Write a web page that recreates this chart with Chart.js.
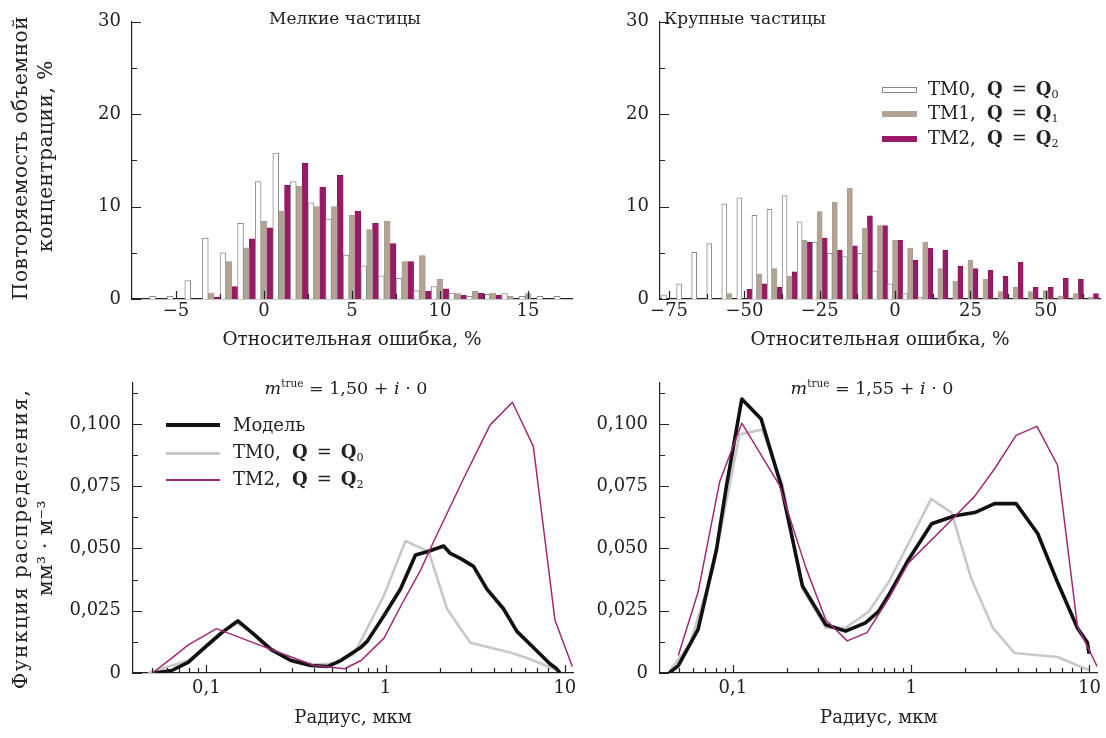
<!DOCTYPE html>
<html lang="ru">
<head>
  <meta charset="UTF-8" />
  <title>Повторяемость и функция распределения</title>
  <script src="https://cdn.jsdelivr.net/npm/chart.js"></script>
  <style>
    body {
      margin: 0;
      background: #fff;
      font-family: 'DejaVu Serif', serif;
      color: #222;
    }
    #wrap { position: relative; width: 1106px; height: 738px; overflow: hidden; }
    canvas { position: absolute; }
    .txt {
      position: absolute;
      white-space: nowrap;
      font-size: 18px;
      line-height: 1;
      transform: translateY(-50%);
    }
    .mid { transform: translate(-50%, -50%); }
    .cap { font-size: 17px; }
    .eq { font-size: 17.5px; }
    .txt sub { font-size: 0.62em; vertical-align: -0.2em; }
    .txt sup { font-size: 0.6em; vertical-align: 0.7em; }
    .sw { position: absolute; width: 35px; height: 6px; box-sizing: border-box; }
    .ln { position: absolute; width: 54px; }
  </style>
</head>
<body>
<div id="wrap">
  <canvas id="fineHist" width="590" height="360" style="left:0;top:0"></canvas>
  <canvas id="coarseHist" width="516" height="360" style="left:590px;top:0"></canvas>
  <canvas id="fineDist" width="590" height="378" style="left:0;top:360px"></canvas>
  <canvas id="coarseDist" width="516" height="378" style="left:590px;top:360px"></canvas>

  <!-- panel captions -->
  <div class="txt mid cap" style="left:345px;top:18px">Мелкие частицы</div>
  <div class="txt mid cap" style="left:745px;top:18px">Крупные частицы</div>
  <div class="txt mid eq" style="left:346px;top:388px"><i>m</i><sup>true</sup> = 1,50 + <i>i</i> · 0</div>
  <div class="txt mid eq" style="left:872px;top:388px"><i>m</i><sup>true</sup> = 1,55 + <i>i</i> · 0</div>

  <!-- histogram legend -->
  <div class="sw" style="left:882px;top:87px;background:#fff;border:1px solid #888"></div>
  <div class="txt" style="left:928px;top:90px">TM0,&nbsp; <b>Q</b>&ensp;=&ensp;<b>Q</b><sub>0</sub></div>
  <div class="sw" style="left:882px;top:111px;background:#b2a394"></div>
  <div class="txt" style="left:928px;top:114px">TM1,&nbsp; <b>Q</b>&ensp;=&ensp;<b>Q</b><sub>1</sub></div>
  <div class="sw" style="left:882px;top:136px;background:#9b1a68"></div>
  <div class="txt" style="left:928px;top:139px">TM2,&nbsp; <b>Q</b>&ensp;=&ensp;<b>Q</b><sub>2</sub></div>

  <!-- distribution legend -->
  <div class="ln" style="left:166px;top:423px;height:4px;background:#111"></div>
  <div class="txt" style="left:233px;top:425px">Модель</div>
  <div class="ln" style="left:166px;top:452px;height:3px;background:#c8c8c8"></div>
  <div class="txt" style="left:233px;top:453px">TM0,&nbsp; <b>Q</b>&ensp;=&ensp;<b>Q</b><sub>0</sub></div>
  <div class="ln" style="left:166px;top:479px;height:1.5px;background:#a0287a"></div>
  <div class="txt" style="left:233px;top:480px">TM2,&nbsp; <b>Q</b>&ensp;=&ensp;<b>Q</b><sub>2</sub></div>
</div>

<script>
  // --- histograms: relative error bins (%), repeatability (%) ---
  const fineBins = [-7, -6, -5, -4, -3, -2, -1, 0, 1, 2, 3, 4, 5, 6, 7, 8, 9, 10, 11, 12, 13, 14, 15, 16, 17];
  const fineTM0 = [0, 0.3, 0.3, 2.0, 6.6, 5.0, 8.2, 12.7, 15.8, 12.7, 10.4, 8.65, 4.75, 3.6, 2.5, 2.25, 0.9, 1.35, 0.65, 0.3, 0.5, 0.6, 0.3, 0.3, 0.3];
  const fineTM1 = [0, 0, 0, 0, 0.65, 4.05, 5.55, 8.4, 9.5, 12.2, 10.0, 10.0, 9.05, 7.5, 8.4, 4.05, 4.7, 2.15, 0.6, 0.85, 0.65, 0.3, 0.6, 0, 0];
  const fineTM2 = [0, 0, 0, 0, 0.2, 1.35, 6.5, 7.7, 12.3, 14.7, 12.1, 13.4, 9.5, 8.2, 6.0, 4.05, 0.85, 1.1, 0.4, 0.65, 0.4, 0, 0, 0, 0];

  const coarseBins = [-75, -70, -65, -60, -55, -50, -45, -40, -35, -30, -25, -20, -15, -10, -5, 0, 5, 10, 15, 20, 25, 30, 35, 40, 45, 50, 55, 60, 65];
  const coarseTM0 = [0.45, 1.65, 5.05, 6.0, 10.3, 10.95, 9.05, 9.7, 11.2, 8.35, 6.15, 4.95, 4.6, 4.95, 3.05, 1.65, 0.6, 0.2, 0, 0, 0, 0, 0, 0, 0, 0, 0, 0, 0];
  const coarseTM1 = [0, 0, 0, 0, 0.6, 0, 2.7, 3.3, 2.45, 6.35, 9.45, 10.5, 12.0, 7.65, 7.95, 6.35, 5.5, 6.15, 3.3, 1.95, 4.2, 2.15, 0.8, 1.25, 0.8, 0.9, 0.35, 0.6, 0.2];
  const coarseTM2 = [0, 0, 0, 0, 0, 1.05, 1.65, 1.25, 2.95, 6.15, 6.6, 5.3, 5.75, 9.0, 7.95, 6.35, 4.2, 5.5, 5.3, 3.55, 3.3, 3.1, 2.45, 4.0, 1.25, 1.25, 2.25, 2.15, 0.6];

  const histYTicks = [0, 5, 10, 15, 20, 25, 30];
  const histYLabels = ['0', '', '10', '', '20', '', '30'];
  const fineXTicks = [-5, -2.5, 0, 2.5, 5, 7.5, 10, 12.5, 15];
  const fineXLabels = ['−5', '', '0', '', '5', '', '10', '', '15'];
  const coarseXTicks = [-75, -62.5, -50, -37.5, -25, -12.5, 0, 12.5, 25, 37.5, 50, 62.5];
  const coarseXLabels = ['−75', '', '−50', '', '−25', '', '0', '', '25', '', '50', ''];

  // --- size distributions: radius (um), density (um^3/m^3) ---
  const fineModelR = [0.0516, 0.0641, 0.0792, 0.0977, 0.121, 0.150, 0.185, 0.229, 0.296, 0.383, 0.474, 0.562, 0.726, 0.791, 0.978, 1.211, 1.468, 1.705, 2.107, 2.297, 2.61, 3.095, 3.674, 4.543, 5.40, 6.67, 8.25, 9.0, 9.4];
  const fineModelV = [0, 0.001, 0.0043, 0.0102, 0.016, 0.0209, 0.0154, 0.0095, 0.005, 0.003, 0.0026, 0.005, 0.0102, 0.0128, 0.023, 0.0337, 0.0474, 0.0487, 0.051, 0.048, 0.046, 0.0428, 0.0337, 0.0258, 0.0167, 0.0102, 0.0037, 0.0017, 0];
  const fineTM0R = [0.0475, 0.079, 0.107, 0.144, 0.185, 0.229, 0.296, 0.40, 0.527, 0.667, 0.791, 0.978, 1.29, 1.74, 2.2, 2.97, 4.95, 6.38, 8.25, 9.38];
  const fineTM0V = [0, 0.005, 0.012, 0.0206, 0.016, 0.010, 0.0055, 0.0034, 0.004, 0.0076, 0.018, 0.031, 0.053, 0.0487, 0.0258, 0.0121, 0.0082, 0.0056, 0.0023, 0.0005];
  const fineTM2R = [0.05, 0.065, 0.079, 0.114, 0.20, 0.30, 0.40, 0.59, 0.73, 0.98, 1.26, 1.56, 1.86, 2.72, 3.83, 5.1, 6.67, 8.8, 11.0];
  const fineTM2V = [0, 0.0063, 0.0112, 0.0178, 0.0111, 0.0063, 0.003, 0.0017, 0.005, 0.014, 0.029, 0.041, 0.053, 0.078, 0.0996, 0.1087, 0.091, 0.0213, 0.0026];

  const coarseModelR = [0.044, 0.0494, 0.0638, 0.0808, 0.0919, 0.1122, 0.144, 0.186, 0.2455, 0.3317, 0.4286, 0.554, 0.657, 0.747, 0.966, 1.302, 1.759, 2.274, 2.939, 3.878, 5.124, 6.624, 8.563, 9.735, 9.95];
  const coarseModelV = [0, 0.003, 0.0175, 0.0494, 0.0749, 0.110, 0.102, 0.0755, 0.035, 0.0194, 0.0168, 0.0201, 0.0247, 0.0312, 0.0455, 0.0599, 0.0631, 0.0644, 0.068, 0.068, 0.056, 0.0364, 0.0181, 0.0122, 0.0077];
  const coarseTM0R = [0.0444, 0.0574, 0.0774, 0.109, 0.1459, 0.19, 0.2455, 0.3317, 0.4286, 0.578, 0.747, 0.966, 1.293, 1.684, 2.177, 2.876, 3.80, 6.624, 8.93, 9.95];
  const coarseTM0V = [0.001, 0.0116, 0.0416, 0.0958, 0.0977, 0.0755, 0.0338, 0.0181, 0.0181, 0.0247, 0.0364, 0.052, 0.0699, 0.0644, 0.0377, 0.0181, 0.008, 0.0064, 0.0025, 0.0012];
  const coarseTM2R = [0.0494, 0.0638, 0.0843, 0.1122, 0.182, 0.2565, 0.3317, 0.4375, 0.5655, 0.747, 0.966, 1.743, 2.274, 2.939, 3.878, 5.078, 6.624, 8.563, 11.07];
  const coarseTM2V = [0.007, 0.0325, 0.0768, 0.1003, 0.0755, 0.0423, 0.0214, 0.0129, 0.0162, 0.0299, 0.0442, 0.0625, 0.071, 0.082, 0.0954, 0.099, 0.0834, 0.0188, 0.0025];

  const radiusTicks = [0.05, 0.06, 0.07, 0.08, 0.09, 0.1, 0.2, 0.3, 0.4, 0.5, 0.6, 0.7, 0.8, 0.9, 1, 2, 3, 4, 5, 6, 7, 8, 9, 10];
  const radiusLabels = { 0.1: '0,1', 1: '1', 10: '10' };
  const densityTicks = [0, 0.0125, 0.025, 0.0375, 0.05, 0.0625, 0.075, 0.0875, 0.1, 0.1125];
  const densityLabels = ['0', '', '0,025', '', '0,050', '', '0,075', '', '0,100', ''];

  Chart.defaults.font.family = "'DejaVu Serif', serif";
  Chart.defaults.font.size = 18;
  Chart.defaults.color = '#222';

  // tick marks pointing into the plot area (major = labelled tick)
  const innerTicks = {
    id: 'innerTicks',
    afterDatasetsDraw(chart) {
      const { ctx, chartArea: a, scales: { x, y } } = chart;
      ctx.save();
      ctx.strokeStyle = '#222';
      ctx.lineWidth = 1.2;
      ctx.beginPath();
      x.ticks.forEach(t => {
        const px = Math.round(x.getPixelForValue(t.value)) + 0.5;
        const len = t.label ? 8 : 5;
        ctx.moveTo(px, a.bottom);
        ctx.lineTo(px, a.bottom - len);
      });
      y.ticks.forEach(t => {
        const py = Math.round(y.getPixelForValue(t.value)) + 0.5;
        const len = t.label ? 9 : 5;
        ctx.moveTo(a.left, py);
        ctx.lineTo(a.left + len, py);
      });
      ctx.stroke();
      ctx.restore();
    }
  };

  // two-line rotated y caption, placed along the left margin
  const sideTitle = {
    id: 'sideTitle',
    afterDraw(chart, args, opts) {
      if (!opts.lines) return;
      const ctx = chart.ctx;
      ctx.save();
      ctx.font = opts.size + "px 'DejaVu Serif', serif";
      ctx.fillStyle = '#222';
      ctx.textAlign = 'center';
      ctx.textBaseline = 'middle';
      opts.lines.forEach((line, i) => {
        ctx.save();
        if ('letterSpacing' in ctx) ctx.letterSpacing = opts.spacing[i] + 'px';
        ctx.translate(opts.x[i], opts.y[i]);
        ctx.rotate(-Math.PI / 2);
        ctx.fillText(line, 0, 0);
        ctx.restore();
      });
      ctx.restore();
    }
  };

  const axisLine = { display: true, color: '#222', width: 1.2 };
  const noGrid = { display: false, drawTicks: false };

  function fixedTicks(values, labels) {
    return {
      afterBuildTicks: s => { s.ticks = values.map(v => ({ value: v })); },
      ticks: { autoSkip: false, maxRotation: 0, callback: (v, i) => labels[i] }
    };
  }

  function xTitle(text, size) {
    return { display: true, text: text, font: { size: size, lineHeight: 1.2 }, padding: { top: 0, bottom: 9.2 } };
  }

  function bars(label, bins, vals, fill, border, bw) {
    return {
      label,
      data: bins.map((b, i) => ({ x: b, y: vals[i] > 0 ? vals[i] : null })),
      backgroundColor: fill,
      borderColor: border,
      borderWidth: bw,
      borderSkipped: 'bottom',
      categoryPercentage: 1,
      barPercentage: 1
    };
  }

  function curve(rs, vs, color, width) {
    return {
      data: rs.map((r, i) => ({ x: r, y: vs[i] })),
      borderColor: color,
      borderWidth: width,
      pointRadius: 0,
      tension: 0,
      fill: false,
      borderJoinStyle: 'round'
    };
  }

  function histChart(id, bins, d0, d1, d2, xr, xTicks, xLabels, yWidth, padRight, side) {
    const xt = fixedTicks(xTicks, xLabels);
    const yt = fixedTicks(histYTicks, histYLabels);
    new Chart(document.getElementById(id), {
      type: 'bar',
      data: {
        datasets: [
          bars('TM0', bins, d0, '#ffffff', '#8a8a8a', 1),
          bars('TM1', bins, d1, '#b2a394', '#a89888', 0.5),
          bars('TM2', bins, d2, '#9b1a68', '#86145a', 0.8)
        ]
      },
      options: {
        responsive: false,
        animation: false,
        events: [],
        layout: { padding: { left: 0, right: padRight, top: 12, bottom: 0 } },
        plugins: { legend: { display: false }, tooltip: { enabled: false }, sideTitle: side },
        scales: {
          x: {
            type: 'linear', min: xr[0], max: xr[1], offset: false,
            grid: { display: false, drawTicks: false, offset: false },
            border: axisLine,
            afterBuildTicks: xt.afterBuildTicks,
            afterFit: s => { s.height = 61; },
            ticks: Object.assign({ padding: 2 }, xt.ticks),
            title: xTitle('Относительная ошибка, %', 18.5)
          },
          y: {
            min: 0, max: 30,
            grid: noGrid,
            border: axisLine,
            afterBuildTicks: yt.afterBuildTicks,
            afterFit: s => { s.width = yWidth; },
            ticks: Object.assign({ padding: 11 }, yt.ticks)
          }
        }
      },
      plugins: [innerTicks, sideTitle]
    });
  }

  function distChart(id, model, tm0, tm2, yWidth, padRight, side) {
    const xt = fixedTicks(radiusTicks, radiusTicks.map(v => radiusLabels[v] || ''));
    const yt = fixedTicks(densityTicks, densityLabels);
    new Chart(document.getElementById(id), {
      type: 'line',
      data: {
        datasets: [
          curve(tm2[0], tm2[1], '#a0287a', 1.5),
          curve(model[0], model[1], '#111111', 3.6),
          curve(tm0[0], tm0[1], '#c8c8c8', 2.6)
        ]
      },
      options: {
        responsive: false,
        animation: false,
        events: [],
        layout: { padding: { left: 0, right: padRight, top: 15, bottom: 0 } },
        plugins: { legend: { display: false }, tooltip: { enabled: false }, sideTitle: side },
        scales: {
          x: {
            type: 'logarithmic', min: 0.039, max: 11.1,
            grid: noGrid,
            border: axisLine,
            afterBuildTicks: xt.afterBuildTicks,
            afterFit: s => { s.height = 65; },
            ticks: Object.assign({ padding: 5 }, xt.ticks),
            title: xTitle('Радиус, мкм', 18)
          },
          y: {
            type: 'linear', min: 0, max: 0.1165,
            grid: noGrid,
            border: axisLine,
            afterBuildTicks: yt.afterBuildTicks,
            afterFit: s => { s.width = yWidth; },
            ticks: Object.assign({ padding: 12 }, yt.ticks)
          }
        }
      },
      plugins: [innerTicks, sideTitle]
    });
  }

  histChart('fineHist', fineBins, fineTM0, fineTM1, fineTM2, [-7.5, 17.5], fineXTicks, fineXLabels, 132, 18,
    { lines: ['Повторяемость объемной', 'концентрации, %'], x: [22, 47], y: [158, 156], size: 20, spacing: [0.6, 0.6] });
  histChart('coarseHist', coarseBins, coarseTM0, coarseTM1, coarseTM2, [-78, 68], coarseXTicks, coarseXLabels, 70, 6, {});

  distChart('fineDist', [fineModelR, fineModelV], [fineTM0R, fineTM0V], [fineTM2R, fineTM2V], 133, 17,
    { lines: ['Функция распределения,', 'мм³ · м⁻³'], x: [22, 47], y: [179, 188], size: 20, spacing: [1.5, 0.4] });
  distChart('coarseDist', [coarseModelR, coarseModelV], [coarseTM0R, coarseTM0V], [coarseTM2R, coarseTM2V], 70, 6, {});
</script>
</body>
</html>
